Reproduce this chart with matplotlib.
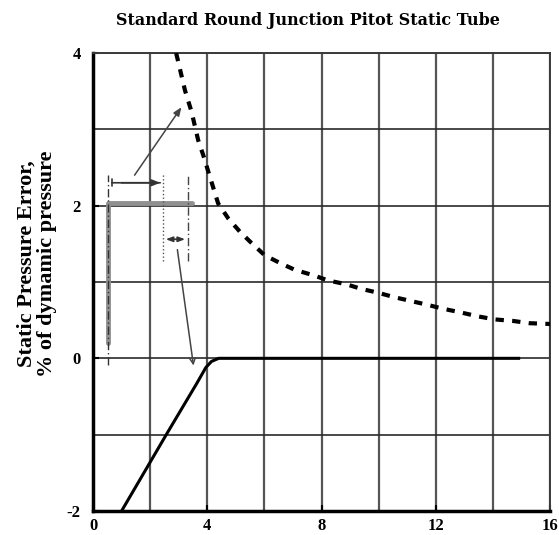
import numpy as np
import matplotlib
matplotlib.use('Agg')
from matplotlib import pyplot as plt

# dashed curve: static pressure error from the tip
tip_x = [2.91, 3.22, 3.45, 3.68, 3.86, 4.09, 4.38, 4.74, 5.14, 5.55, 6.01, 6.54, 7.06, 7.7, 8.23,
         8.87, 9.39, 9.97, 10.56, 11.14, 11.72, 12.25, 12.89, 13.47, 14.06, 14.7, 15.29, 16.0]
tip_y = [4.0, 3.51, 3.23, 2.86, 2.66, 2.38, 2.03, 1.83, 1.66, 1.51, 1.35, 1.25, 1.16, 1.09, 1.02,
         0.97, 0.91, 0.86, 0.80, 0.75, 0.70, 0.65, 0.60, 0.55, 0.51, 0.49, 0.46, 0.45]

# solid curve: static pressure error from the stem
stem_x = [1.0, 2.58, 3.63, 3.95, 4.15, 4.4, 14.9]
stem_y = [-2.0, -0.99, -0.33, -0.12, -0.04, 0.0, 0.0]

# probe sketch (gray L shape)
probe_x = [0.53, 0.53, 3.45]
probe_y = [0.2, 2.04, 2.04]

xticks = [0, 4, 8, 12, 16]
yticks = [-2, 0, 2, 4]

plt.rcParams['font.family'] = ['Liberation Serif', 'DejaVu Serif']

fig = plt.figure(figsize=(5.59, 5.35), dpi=100)
ax = fig.add_axes([0.1664, 0.0449, 0.8176, 0.856])

ax.set_xlim(0, 16)
ax.set_ylim(-2, 4)

# grid
for gx in np.arange(2, 17, 2):
    ax.axvline(gx, color='#555555', lw=1.6, zorder=1)
for gy in np.arange(-1, 5, 1):
    ax.axhline(gy, color='#2a2a2a', lw=1.2, zorder=1)

ax.plot(tip_x, tip_y, color='black', lw=3, ls=(0, (2.0, 2.0)), zorder=3)
ax.plot(stem_x, stem_y, color='black', lw=2.2, zorder=3)

# probe drawing
ax.plot(probe_x, probe_y, color='#909090', lw=3.5, solid_capstyle='round', zorder=2)
ax.plot([0.53, 0.53], [-0.09, 2.4], color='#333333', lw=1, ls=(0, (6, 2, 1, 2)), zorder=3)
ax.plot([2.45, 2.45], [1.28, 2.42], color='#555555', lw=1, ls=':', zorder=3)
ax.plot([3.32, 3.32], [1.28, 2.42], color='#444444', lw=1, ls=(0, (6, 2, 1, 2)), zorder=3)

# dimension arrows
ax.annotate('', xy=(2.45, 2.3), xytext=(0.56, 2.3),
            arrowprops=dict(arrowstyle='|-|,widthA=0.25,widthB=0', color='#333333', lw=1.2))
ax.annotate('', xy=(2.45, 2.3), xytext=(0.9, 2.3),
            arrowprops=dict(arrowstyle='-|>,head_length=0.5,head_width=0.2', color='#333333', lw=1.2))
ax.annotate('', xy=(3.32, 1.56), xytext=(2.45, 1.56),
            arrowprops=dict(arrowstyle='<|-|>,head_length=0.4,head_width=0.15', color='#333333', lw=1.2))

# leader lines
ax.annotate('', xy=(3.15, 3.32), xytext=(1.4, 2.37),
            arrowprops=dict(arrowstyle='-|>,head_length=0.5,head_width=0.2', color='#444444', lw=1.1))
ax.annotate('', xy=(3.53, -0.13), xytext=(2.94, 1.46),
            arrowprops=dict(arrowstyle='->,head_length=0.4,head_width=0.2', color='#444444', lw=1.1))

ax.set_xticks(xticks)
ax.set_yticks(yticks)
ax.set_xticklabels([str(t) for t in xticks], fontsize=12, fontweight='bold')
ax.set_yticklabels([str(t) for t in yticks], fontsize=12, fontweight='bold')
ax.tick_params(direction='in', length=4, width=1.5)
ax.tick_params(axis='y', pad=9)
ax.tick_params(axis='x', pad=5)

for side in ['left', 'bottom']:
    ax.spines[side].set_linewidth(2.5)
for side in ['top', 'right']:
    ax.spines[side].set_linewidth(1.4)
    ax.spines[side].set_color('#3a3a3a')

fig.text(0.551, 0.961, 'Standard Round Junction Pitot Static Tube', fontsize=11.5,
         fontweight='bold', family='DejaVu Serif', ha='center', va='center')
ax.set_ylabel('Static Pressure Error,\n% of dymamic pressure', fontsize=16, fontweight='bold',
              linespacing=1.05)
ax.yaxis.set_label_coords(-0.078, 0.54)

fig.savefig('out.png', dpi=100)
